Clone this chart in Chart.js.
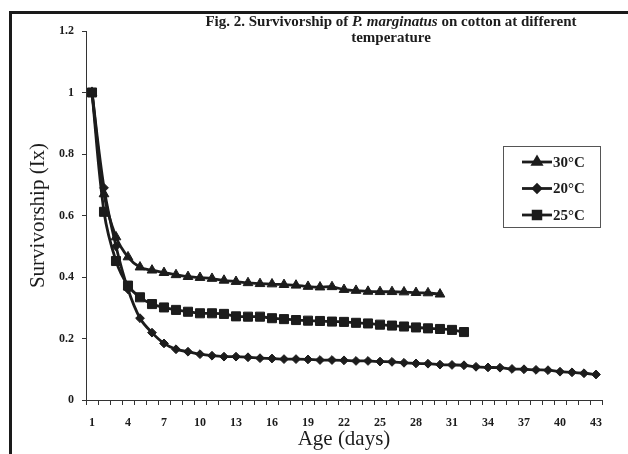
<!DOCTYPE html>
<html>
<head>
<meta charset="utf-8">
<script src="https://cdn.jsdelivr.net/npm/chart.js@4"></script>
<style>
  html, body { margin: 0; padding: 0; background: #fff; }
  #wrap { position: relative; width: 628px; height: 454px; overflow: hidden; }
  #frame { position: absolute; left: 9px; top: 11px; width: 700px; height: 500px;
           border-left: 3px solid #1a1a1a; border-top: 3px solid #1a1a1a; pointer-events: none; }
  canvas { position: absolute; left: 0; top: 0; }
</style>
</head>
<body>
<div id="wrap">
  <canvas id="c" width="628" height="454"></canvas>
  <div id="frame"></div>
</div>
<script>
// ---- data ----
const days = Array.from({length: 43}, (_, i) => String(i + 1));
const tickEvery = 3;
const seriesLabels = ['30°C', '20°C', '25°C'];
const lx30 = [1.0, 0.67, 0.53, 0.465, 0.432, 0.422, 0.414, 0.407, 0.401, 0.398,
              0.395, 0.389, 0.385, 0.381, 0.378, 0.377, 0.375, 0.373, 0.369, 0.367,
              0.368, 0.359, 0.356, 0.353, 0.352, 0.352, 0.351, 0.349, 0.348, 0.344];
const lx20 = [1.0, 0.69, 0.50, 0.36, 0.266, 0.219, 0.184, 0.165, 0.157, 0.149,
              0.144, 0.141, 0.141, 0.139, 0.136, 0.135, 0.133, 0.133, 0.132, 0.130,
              0.130, 0.129, 0.127, 0.127, 0.125, 0.124, 0.121, 0.119, 0.118, 0.115,
              0.114, 0.113, 0.108, 0.106, 0.105, 0.101, 0.100, 0.098, 0.097, 0.092,
              0.090, 0.087, 0.083];
const lx25 = [1.0, 0.612, 0.452, 0.372, 0.334, 0.312, 0.301, 0.293, 0.287, 0.282,
              0.282, 0.280, 0.272, 0.271, 0.271, 0.266, 0.263, 0.260, 0.258, 0.257,
              0.255, 0.254, 0.251, 0.249, 0.245, 0.242, 0.239, 0.236, 0.233, 0.231,
              0.228, 0.221];
const titleParts = [['Fig. 2. Survivorship of ', false], ['P. marginatus', true], [' on cotton at different', false]];
const titleLine2 = 'temperature';
const xTitle = 'Age (days)';
const yTitle = 'Survivorship (Ix)';

const INK = '#1c1c1c';
const SERIF = '"Liberation Serif", "Times New Roman", serif';
Chart.defaults.font.family = SERIF;
Chart.defaults.color = INK;

const titlePlugin = {
  id: 'figTitle',
  afterDraw(chart) {
    const ctx = chart.ctx;
    ctx.save();
    ctx.fillStyle = INK;
    ctx.textBaseline = 'middle';
    const size = 15;
    const fontFor = it => (it ? 'italic ' : '') + 'bold ' + size + 'px ' + SERIF;
    let total = 0;
    titleParts.forEach(([t, it]) => { ctx.font = fontFor(it); total += ctx.measureText(t).width; });
    const cx = 391;
    let x = cx - total / 2;
    titleParts.forEach(([t, it]) => {
      ctx.font = fontFor(it);
      ctx.textAlign = 'left';
      ctx.fillText(t, x, 22);
      x += ctx.measureText(t).width;
    });
    ctx.font = fontFor(false);
    ctx.textAlign = 'center';
    ctx.fillText(titleLine2, cx, 38);
    ctx.restore();
  }
};

const legendPlugin = {
  id: 'boxLegend',
  afterDraw(chart) {
    const ctx = chart.ctx;
    ctx.save();
    ctx.strokeStyle = '#555';
    ctx.lineWidth = 1;
    ctx.strokeRect(503.5, 146.5, 97, 81);
    chart.data.datasets.forEach((ds, i) => {
      const y = 162 + i * 26.5;
      ctx.strokeStyle = ds.borderColor;
      ctx.lineWidth = ds.borderWidth;
      ctx.beginPath();
      ctx.moveTo(522, y);
      ctx.lineTo(552, y);
      ctx.stroke();
      Chart.helpers.drawPoint(ctx, {
        pointStyle: ds.pointStyle, radius: ds.pointRadius * 0.85, rotation: 0,
        borderWidth: 1
      }, 537, y);
      ctx.fillStyle = ds.pointBackgroundColor;
      ctx.strokeStyle = ds.pointBorderColor;
      ctx.fill();
      ctx.fillStyle = INK;
      ctx.font = 'bold 15px ' + SERIF;
      ctx.textAlign = 'left';
      ctx.textBaseline = 'middle';
      ctx.fillText(ds.label, 553, y + 1);
    });
    ctx.restore();
  }
};

function mkSet(label, data, style, r) {
  return {
    label, data,
    borderColor: INK, backgroundColor: INK,
    pointBackgroundColor: INK, pointBorderColor: INK,
    borderWidth: 2.8, pointStyle: style, pointRadius: r, pointBorderWidth: 1,
    tension: 0.35, fill: false
  };
}

new Chart(document.getElementById('c'), {
  type: 'line',
  data: {
    labels: days,
    datasets: [
      mkSet(seriesLabels[0], lx30, 'triangle', 5.6),
      mkSet(seriesLabels[1], lx20, 'rectRot', 4.4),
      mkSet(seriesLabels[2], lx25, 'rect', 6.4)
    ]
  },
  options: {
    responsive: false,
    animation: false,
    layout: { padding: { top: 31, right: 26, left: 0, bottom: 0 } },
    plugins: { legend: { display: false }, title: { display: false }, tooltip: { enabled: false } },
    scales: {
      x: {
        type: 'category',
        offset: true,
        afterFit(s) { s.height = 54; },
        grid: { display: true, drawOnChartArea: false, drawTicks: true, tickLength: 5, color: '#333', offset: true },
        border: { display: true, color: '#333', width: 1 },
        ticks: {
          autoSkip: false, maxRotation: 0, minRotation: 0, padding: 11,
          font: { size: 12, weight: 'bold' }, color: INK,
          callback(v, i) { return i % tickEvery === 0 ? this.getLabelForValue(v) : ''; }
        },
        title: { display: true, text: xTitle, font: { size: 21 }, color: INK, padding: { top: 0, bottom: 2 } }
      },
      y: {
        min: 0, max: 1.2,
        afterFit(s) { s.width = 86; },
        grid: { display: true, drawOnChartArea: false, drawTicks: true, tickLength: 4, color: '#333' },
        border: { display: true, color: '#333', width: 1 },
        ticks: {
          stepSize: 0.2, padding: 8, font: { size: 12, weight: 'bold' }, color: INK,
          callback(v) { return String(Math.round(v * 10) / 10); }
        },
        title: { display: true, text: yTitle, font: { size: 21 }, color: INK, padding: { top: 26, bottom: 0 } }
      }
    }
  },
  plugins: [titlePlugin, legendPlugin]
});
</script>
</body>
</html>
